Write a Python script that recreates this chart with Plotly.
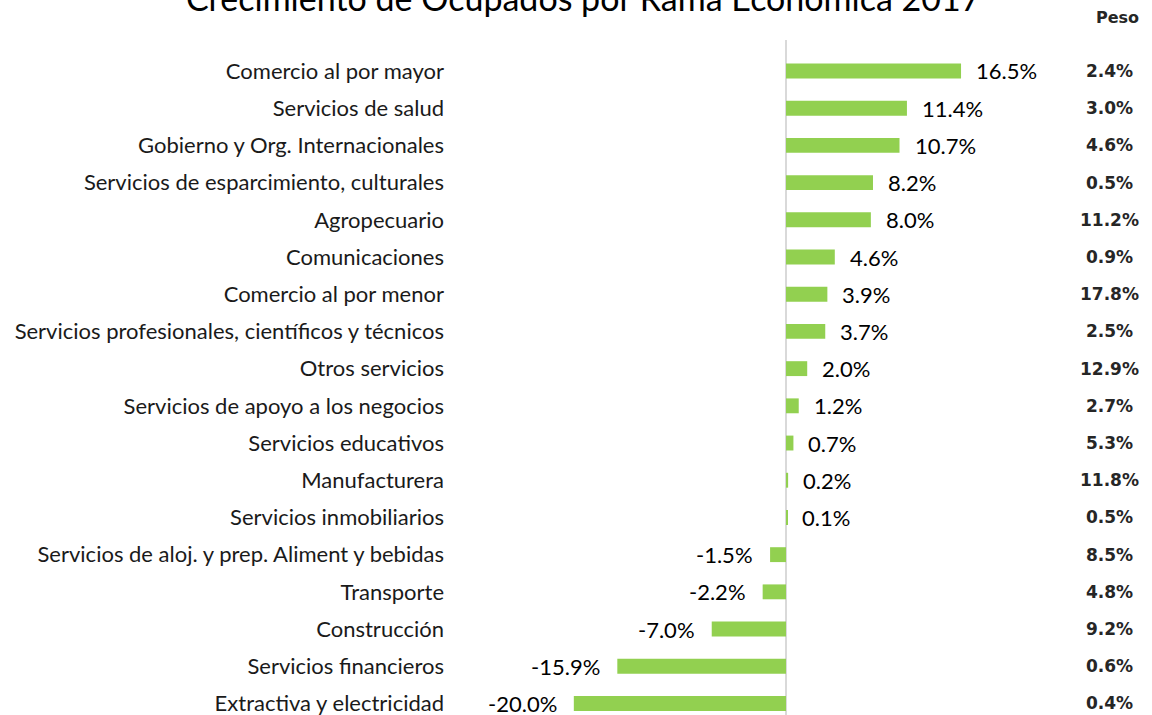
import plotly.graph_objects as go

categories = [
    "Comercio al por mayor",
    "Servicios de salud",
    "Gobierno y Org. Internacionales",
    "Servicios de esparcimiento, culturales",
    "Agropecuario",
    "Comunicaciones",
    "Comercio al por menor",
    "Servicios profesionales, científicos y técnicos",
    "Otros servicios",
    "Servicios de apoyo a los negocios",
    "Servicios educativos",
    "Manufacturera",
    "Servicios inmobiliarios",
    "Servicios de aloj. y prep. Aliment y bebidas",
    "Transporte",
    "Construcción",
    "Servicios financieros",
    "Extractiva y electricidad",
]
growth = [16.5, 11.4, 10.7, 8.2, 8.0, 4.6, 3.9, 3.7, 2.0, 1.2, 0.7, 0.2, 0.1,
          -1.5, -2.2, -7.0, -15.9, -20.0]
peso = [2.4, 3.0, 4.6, 0.5, 11.2, 0.9, 17.8, 2.5, 12.9, 2.7, 5.3, 11.8, 0.5,
        8.5, 4.8, 9.2, 0.6, 0.4]

title_text = "Crecimiento de Ocupados por Rama Económica 2017"
peso_title = "Peso"

GREEN = "#92D050"
FONT = "Lato"

fig = go.Figure()
fig.add_trace(go.Bar(
    y=categories, x=growth, orientation="h",
    marker=dict(color=GREEN, line=dict(width=0)),
    hoverinfo="skip",
))

annotations = []
for cat, v in zip(categories, growth):
    annotations.append(dict(
        x=v, y=cat, xref="x", yref="y",
        text=f"{v:.1f}%",
        showarrow=False,
        xanchor="left" if v >= 0 else "right",
        xshift=13 if v >= 0 else -15,
        font=dict(family=FONT, size=22, color="#000000"),
    ))
for cat, p in zip(categories, peso):
    annotations.append(dict(
        x=0.9397, y=cat, xref="paper", yref="y",
        text=f"<b>{p:.1f}%</b>",
        showarrow=False, xanchor="center",
        font=dict(family="DejaVu Sans", size=17, color="#262626"),
    ))
annotations.append(dict(
    x=0.950, y=1.0326, xref="paper", yref="paper",
    text=f"<b>{peso_title}</b>", showarrow=False, xanchor="center", yanchor="middle",
    font=dict(family="DejaVu Sans", size=16, color="#262626"),
))
annotations.append(dict(
    x=0.184, y=1.063, xref="paper", yref="paper",
    text=title_text, showarrow=False, xanchor="center", yanchor="middle",
    font=dict(family=FONT, size=34, color="#000000"),
))

fig.update_layout(
    width=1152, height=715,
    margin=dict(l=455, r=0, t=40, b=0),
    paper_bgcolor="white", plot_bgcolor="white",
    showlegend=False,
    bargap=0.6,
    annotations=annotations,
    xaxis=dict(
        range=[-31.2, 34.5], showgrid=False, showticklabels=False,
        zeroline=True, zerolinecolor="#D9D9D9", zerolinewidth=2,
        showline=False, fixedrange=True,
    ),
    yaxis=dict(
        type="category", categoryorder="array", categoryarray=categories,
        range=[17.31, -0.833], showgrid=False, showline=False,
        ticks="", ticklabelstandoff=10,
        tickfont=dict(family=FONT, size=22, color="#1a1a1a"),
        fixedrange=True,
    ),
)

fig.write_html(
    "out.html",
    config={"displayModeBar": False},
    post_script="document.body.style.margin='0';document.body.style.overflow='hidden';",
)
